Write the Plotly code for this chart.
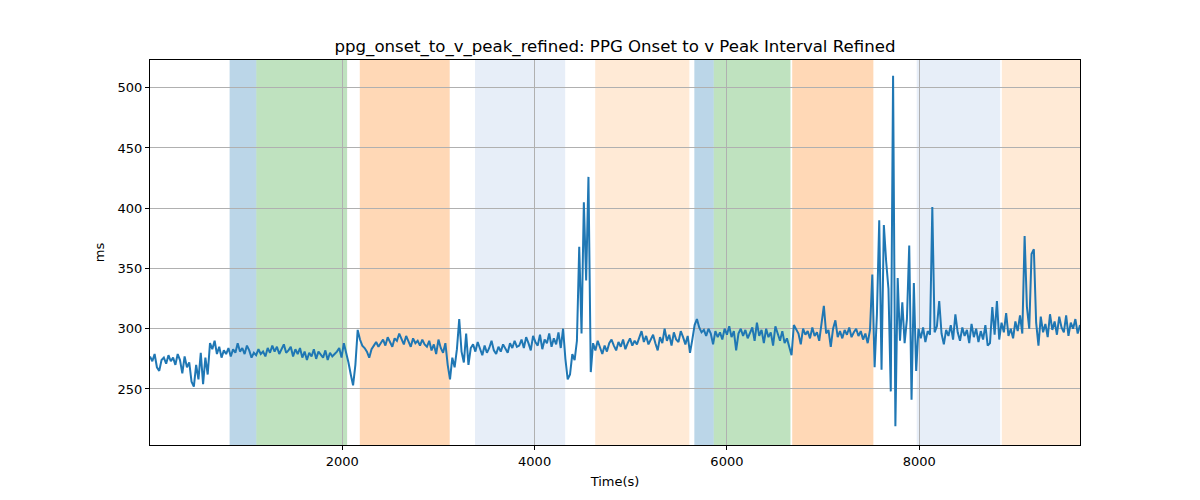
import plotly.graph_objects as go

SAMPLE_INTERVAL_S = 24

interval_ms = [
    277, 273, 279, 268, 265, 274, 276, 271, 278, 273, 276, 270, 279, 274, 263, 277, 268, 272, 256, 252,
    270, 258, 280, 254, 276, 262, 288, 283, 290, 279, 285, 276, 282, 279, 284, 277, 283, 280, 288, 281,
    284, 279, 286, 282, 276, 280, 278, 283, 279, 281, 277, 284, 280, 286, 281, 285, 279, 283, 287, 280,
    282, 285, 277, 283, 279, 284, 276, 281, 274, 280, 277, 283, 275, 281, 278, 276, 282, 274, 280, 277,
    279, 281, 284, 276, 288, 281, 272, 262, 253, 270, 299, 291, 286, 284, 281, 276, 283, 286, 289, 285,
    288, 291, 286, 293, 289, 285, 292, 290, 296, 291, 287, 294, 289, 285, 292, 288, 290, 286, 291, 287,
    285, 290, 282, 287, 279, 291, 284, 280, 288, 270, 258, 276, 268, 283, 308, 281, 272, 296, 270, 284,
    287, 281, 289, 283, 278, 286, 280, 284, 290, 282, 279, 285, 281, 287, 283, 280, 288, 284, 290, 285,
    286, 291, 284, 293, 288, 282, 294, 289, 286, 295, 283, 291, 288, 296, 285, 292, 287, 297, 284, 300,
    275, 258, 262, 279, 274, 290, 368, 296, 405, 340, 426, 264, 288, 282, 290, 284, 279, 286, 281, 288,
    291, 286, 282, 289, 285, 291, 283, 288, 292, 286, 290, 287, 293, 298, 289, 294, 287, 291, 295, 288,
    282, 293, 288, 300, 290, 295, 286, 297, 291, 289, 298, 293, 287, 294, 280, 291, 303, 308, 301, 297,
    299, 294, 300, 296, 287, 298, 293, 297, 291, 300, 295, 302, 293, 298, 282, 296, 300, 294, 299, 292,
    296, 301, 290, 305, 294, 299, 288, 300, 293, 297, 286, 302, 296, 290, 298, 288, 292, 284, 278, 303,
    299, 296, 287, 300, 295, 298, 292, 301, 294, 297, 290, 305, 319, 296, 299, 285, 300, 307, 293, 298,
    292, 299, 295, 301, 293, 297, 300, 294, 298, 291, 296, 288, 299, 345, 268, 312, 390, 266, 386, 356,
    333, 248, 510, 219, 342, 290, 322, 288, 308, 369, 241, 338, 265, 300, 292, 301, 289, 298, 295, 401,
    297, 302, 323, 296, 287, 299, 294, 303, 291, 312, 297, 290, 301, 294, 299, 288, 304, 293, 300, 289,
    298, 291, 303, 286, 288, 318, 295, 323, 291, 305, 297, 313, 294, 300, 292, 306, 298, 311, 296, 377,
    318, 300, 362, 366, 305, 286, 310, 297, 304, 293, 312, 299, 306, 295, 310, 301, 297, 311, 294, 305,
    300, 308, 296, 303,
]
time_s = [i * SAMPLE_INTERVAL_S for i in range(len(interval_ms))]

region_start = [828, 1106, 2182, 3380, 4630, 5661, 5863, 6679, 7974, 8859]
region_end = [1106, 2050, 3117, 4318, 5609, 5863, 6661, 7523, 8842, 9700]
region_color = ["#1f77b4", "#2ca02c", "#ff7f0e", "#aec7e8", "#ffbb78",
                "#1f77b4", "#2ca02c", "#ff7f0e", "#aec7e8", "#ffbb78"]

x_ticks = [2000, 4000, 6000, 8000]
y_ticks = [250, 300, 350, 400, 450, 500]

fig = go.Figure()
for s, e, c in zip(region_start, region_end, region_color):
    fig.add_vrect(x0=s, x1=e, fillcolor=c, opacity=0.3, line_width=0, layer="below")

fig.add_trace(go.Scatter(x=time_s, y=interval_ms, mode="lines",
                         line=dict(color="#1f77b4", width=2), showlegend=False))

font = "DejaVu Sans, Arial, sans-serif"
axis_common = dict(showline=True, linecolor="black", linewidth=1, mirror=True,
                   ticks="outside", ticklen=4, tickcolor="black",
                   showgrid=True, gridcolor="#b0b0b0", gridwidth=1, zeroline=False,
                   tickfont=dict(family=font, size=13, color="black"))

fig.update_layout(
    width=1200, height=500,
    margin=dict(l=150, r=120, t=60, b=55),
    plot_bgcolor="white", paper_bgcolor="white",
    title=dict(text="ppg_onset_to_v_peak_refined: PPG Onset to v Peak Interval Refined",
               x=0.5, xref="paper", xanchor="center",
               y=1 - 46 / 500, yref="container", yanchor="middle",
               font=dict(family=font, size=16.6, color="black")),
    xaxis=dict(range=[0, 9672], tickvals=x_ticks,
               title=dict(text="Time(s)", font=dict(family=font, size=13, color="black"), standoff=9),
               **axis_common),
    yaxis=dict(range=[203.5, 523], tickvals=y_ticks,
               title=dict(text="ms", font=dict(family=font, size=13, color="black"), standoff=10),
               **axis_common),
)

fig.write_html("out.html")
